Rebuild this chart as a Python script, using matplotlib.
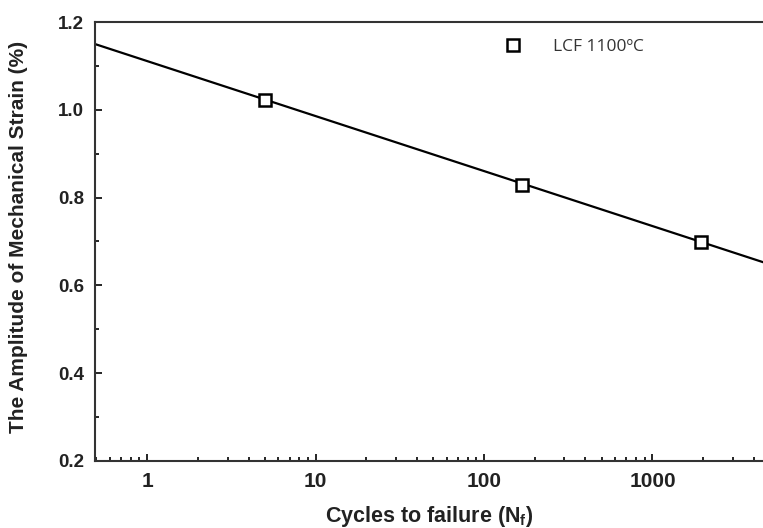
import numpy as np
import matplotlib.pyplot as plt

# Datos LCF 1100 C
cycles = [5, 168, 1950]
strain = [1.022, 0.828, 0.699]

# ajuste lineal en log10(N)
fit_a = 1.111
fit_b = -0.1253
x_fit = np.logspace(np.log10(0.49), np.log10(4600), 50)
y_fit = fit_a + fit_b * np.log10(x_fit)

plt.rcParams['font.family'] = ['Liberation Sans', 'DejaVu Sans']

fig = plt.figure(figsize=(7.63, 5.28), dpi=100)
ax = fig.add_axes([0.1245, 0.127, 0.8755, 0.8313])

ax.plot(x_fit, y_fit, color='black', lw=1.6, zorder=2)
ax.plot(cycles, strain, ls='none', marker='s', ms=8.5, mfc='white',
        mec='black', mew=1.8, zorder=3, label='LCF 1100ºC')

ax.set_xscale('log')
ax.set_xlim(0.49, 4530)
ax.set_ylim(0.2, 1.2)
ax.set_yticks([0.2, 0.4, 0.6, 0.8, 1.0, 1.2])
ax.set_yticks(np.arange(0.3, 1.2, 0.2), minor=True)
ax.set_xticks([1, 10, 100, 1000])
ax.set_xticklabels(['1', '10', '100', '1000'])

ax.tick_params(which='both', direction='in', width=1.2)
ax.tick_params(axis='y', labelsize=13.5)
ax.tick_params(axis='x', labelsize=15)
ax.tick_params(which='major', length=5, pad=8)
ax.tick_params(which='minor', length=3)
for lab in ax.get_xticklabels() + ax.get_yticklabels():
    lab.set_fontweight('bold')
    lab.set_color('#222222')

ax.spines['right'].set_visible(False)
for s in ['left', 'bottom', 'top']:
    ax.spines[s].set_linewidth(1.5)
    ax.spines[s].set_color('#333333')

ax.set_xlabel('Cycles to failure (N$_\\mathregular{f}$)', fontsize=15.5,
              fontweight='bold', labelpad=9, color='#222222')
ax.set_ylabel('The Amplitude of Mechanical Strain (%)', fontsize=15,
              fontweight='bold', color='#222222')
ax.yaxis.set_label_coords(-0.100, 0.51)

leg = ax.legend(loc='center left', bbox_to_anchor=(0.602, 0.943), frameon=False,
                borderaxespad=0, prop={'family': 'Open Sans', 'size': 12.5},
                handletextpad=1.8, handlelength=1.0)
for t in leg.get_texts():
    t.set_color('#333333')

fig.savefig('out.png', dpi=100)
